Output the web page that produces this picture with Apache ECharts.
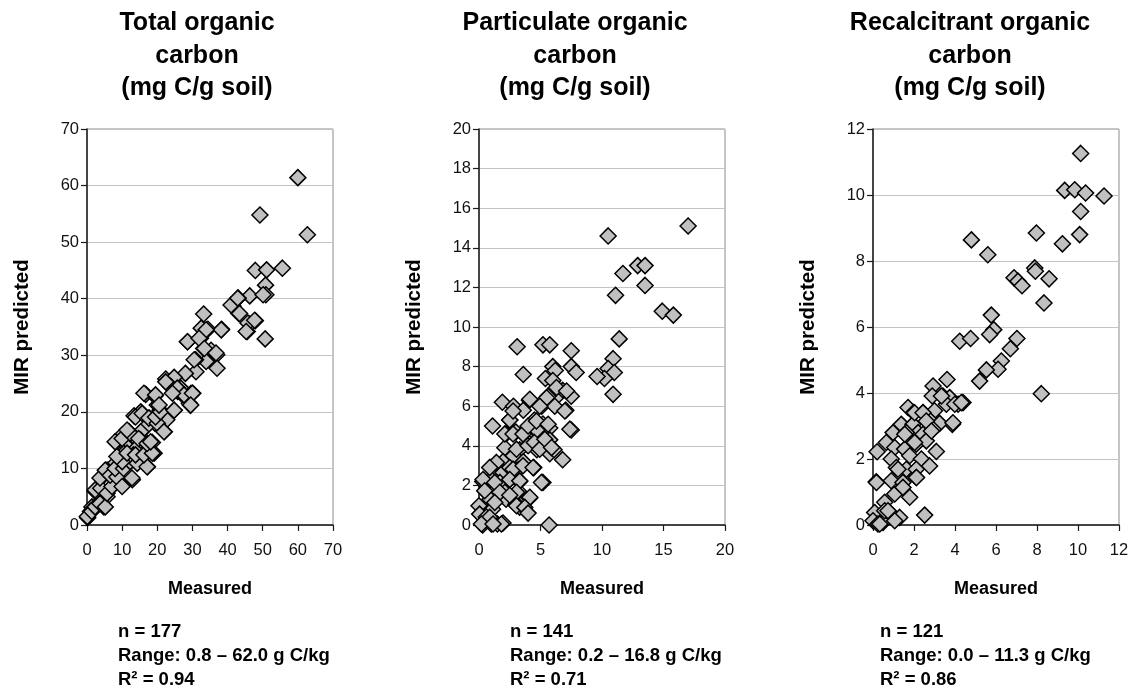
<!DOCTYPE html>
<html>
<head>
<meta charset="utf-8">
<script src="https://cdn.jsdelivr.net/npm/echarts@6/dist/echarts.min.js"></script>
<style>
  html, body { margin: 0; padding: 0; background: #fff; }
  #main { width: 1134px; height: 689px; }
</style>
</head>
<body>
<div id="main"></div>
<script>
// Total organic carbon: measured / MIR predicted
const tocMeasured = [60.0, 49.2, 62.7, 47.9, 51.1, 55.6, 50.8, 50.9, 46.3, 43.0, 41.5, 43.2, 45.6, 46.3, 47.9, 50.7,
  33.2, 34.4, 32.5, 38.3, 28.6, 32.3, 33.2, 35.3, 36.9, 33.9, 30.9, 37.0, 31.0, 28.0, 22.4, 24.8, 23.8, 25.8, 27.7, 30.1,
  29.4, 16.7, 19.3, 24.8, 22.7, 22.0, 20.8, 20.0, 13.4, 15.3, 17.7, 19.3, 16.9, 18.6, 19.1, 17.2, 15.3, 13.9, 12.0, 10.0,
  8.4, 11.5, 14.1, 15.3, 13.2, 10.5, 8.1, 10.5, 12.9, 10.0, 5.7, 7.6, 4.3, 6.7, 3.8, 2.4, 4.8, 1.4, 1.0, 0.2, 5.7,
  0.1, 1.35, 2.3, 3.7, 5.2, 2.3, 3.9, 5.7, 7.1, 3.7, 5.2, 6.6, 8.5, 10.0, 12.8, 8.0, 10.4, 12.3, 10.0, 14.3, 17.1, 8.5,
  11.4, 13.8, 16.2, 18.6, 8.0, 10.0, 12.3, 14.7, 17.1, 18.1, 11.4, 13.8, 15.7, 17.6, 20.0, 21.9, 19.5, 20.9, 24.8, 16.2,
  19.5, 20.5, 22.4, 26.7, 29.6, 29.1, 38.2, 33.9, 28.6, 31.9, 33.4, 36.7, 30.5, 25.7, 27.6, 30.0, 29.5, 24.3, 41.0,
  42.9, 43.4, 45.8, 47.7, 45.3, 50.1];
const tocPredicted = [61.4, 54.8, 51.3, 45.0, 45.1, 45.4, 42.4, 40.7, 40.5, 40.1, 38.7, 37.4, 34.2, 35.5, 36.1, 32.9,
  37.3, 34.6, 34.8, 34.6, 32.4, 33.0, 31.2, 30.9, 30.1, 28.9, 29.2, 27.7, 27.1, 26.8, 25.8, 26.1, 24.5, 23.6, 22.7, 23.3,
  21.2, 23.1, 22.8, 20.3, 18.6, 16.5, 20.3, 21.2, 19.3, 20.0, 18.9, 18.0, 17.4, 14.6, 12.7, 10.3, 16.5, 15.3, 16.5, 15.9,
  14.6, 13.8, 13.6, 15.0, 12.4, 12.7, 10.9, 10.3, 8.0, 7.1, 9.7, 8.8, 8.5, 6.5, 6.5, 5.9, 3.2, 3.2, 2.4, 1.3, 5.0,
  1.5, 2.4, 3.2, 3.8, 3.2, 6.2, 6.5, 5.6, 6.8, 8.3, 9.7, 8.8, 8.5, 6.8, 8.3, 10.0, 10.0, 11.2, 11.2, 10.9, 10.3, 12.1,
  12.7, 12.4, 12.4, 12.7, 14.7, 15.3, 16.2, 15.3, 14.4, 14.7, 16.8, 19.1, 19.7, 18.9, 18.0, 16.5, 19.1, 20.0, 20.3, 23.3,
  23.0, 21.2, 25.3, 24.2, 23.3, 21.5, 34.5, 34.5, 32.4, 33.0, 31.2, 30.4, 29.2, 24.2, 23.0, 23.3, 21.2, 23.3, 38.9,
  40.1, 37.4, 35.7, 36.2, 34.2, 40.7];

// Particulate organic carbon
const pocMeasured = [17.0, 10.5, 12.9, 13.5, 11.7, 13.5, 11.1, 14.9, 15.8, 11.4, 10.9, 10.5, 11.0, 10.2, 9.6, 10.9,
  3.1, 5.2, 5.75, 7.5, 3.6, 5.4, 6.0, 6.2, 6.0, 7.5, 7.9, 6.8, 7.5, 6.2, 5.6, 1.9, 2.8, 3.6, 4.1, 5.1, 7.06, 7.5, 1.1,
  2.5, 4.5, 5.2, 5.75, 2.2, 3.0, 3.6, 4.7, 4.1, 5.75, 5.3, 2.1, 3.3, 4.1, 4.7, 5.75, 6.1, 6.8, 1.95, 2.8, 3.6, 4.45,
  0.9, 1.4, 1.95, 2.5, 3.2, 0.3, 1.0, 1.7, 2.5, 3.3, 5.2, 0.6, 1.4, 2.1, 3.2, 0.9, 2.2, 3.0, 3.3, 4.1, 0.0, 0.05, 1.1,
  0.6, 0.3, 1.0, 1.5, 1.95, 5.7, 1.1,
  2.5, 2.77, 2.1, 2.77, 3.58, 3.05, 3.99, 4.5, 4.94, 1.42, 2.77, 3.58, 4.4, 0.33, 1.28, 2.5, 3.31, 5.08, 0.46, 1.69,
  3.05, 4.13, 1.28, 3.05, 3.72, 0.87, 0.2, 1.82, 5.5, 6.16, 6.98, 7.39, 4.13, 4.94, 3.99, 4.67, 5.62, 5.35, 5.9, 6.3,
  7.12, 0.87, 1.14, 2.5, 3.99];
const pocPredicted = [15.1, 14.6, 13.1, 13.1, 12.7, 12.1, 11.6, 10.8, 10.6, 9.4, 8.4, 7.9, 7.7, 7.4, 7.5, 6.6,
  9.0, 9.1, 9.1, 8.8, 7.6, 7.4, 8.0, 7.8, 7.3, 8.0, 7.7, 6.8, 6.5, 6.4, 6.5, 6.2, 6.0, 5.8, 6.3, 6.0, 5.8, 4.8, 5.0,
  5.3, 5.3, 5.1, 4.9, 4.6, 4.7, 4.6, 4.8, 4.3, 4.3, 4.1, 3.9, 3.8, 4.1, 3.8, 3.6, 3.8, 3.3, 3.2, 3.5, 3.2, 2.9,
  2.9, 2.65, 2.65, 2.9, 2.8, 2.2, 2.3, 2.15, 2.3, 2.2, 2.15, 1.65, 1.8, 1.65, 1.7, 1.3, 1.3, 1.05, 0.9, 1.35, 0.97,
  0.55, 0.8, 0.4, 0.0, 0.05, 0.05, 0.1, 0.0, 0.2,
  5.3, 5.76, 4.6, 4.6, 4.6, 3.83, 4.0, 4.17, 3.83, 3.16, 2.82, 2.99, 2.9, 2.3, 2.15, 2.3, 2.23, 2.15, 1.73, 1.65,
  1.65, 1.4, 1.14, 0.97, 0.89, 0.39, 0.05, 0.05, 6.43, 6.0, 5.76, 4.84, 6.35, 6.0, 5.0, 5.25, 5.09, 4.33, 3.91, 6.94,
  6.77, 2.9, 0.05, 1.5, 0.6];

// Recalcitrant organic carbon
const rocMeasured = [10.13, 9.35, 9.84, 10.37, 11.27, 10.13, 9.24, 10.08, 7.97, 4.8, 5.6, 7.89, 7.92, 8.59, 6.88, 7.07,
  7.27, 8.34, 5.77, 5.89, 5.69, 4.23, 4.76, 7.02, 6.7, 6.26, 6.1, 5.53, 5.2, 8.21, 3.61, 2.93, 2.89, 3.41, 3.74, 4.15,
  4.39, 3.87, 1.71, 1.98, 2.44, 3.0, 2.73, 3.25, 1.38, 1.95, 2.2, 0.98, 1.63, 2.44, 2.93, 0.65, 1.06, 1.54, 2.11, 2.6,
  3.09, 0.2, 0.89, 1.79, 2.36, 2.76, 1.14, 1.63, 2.11, 0.16, 0.89, 1.46, 2.11, 1.06, 1.46, 1.79, 0.57, 0.08, 0.81,
  1.3, 2.52, 0.0, 0.24, 0.49, 1.06, 0.57,
  2.03, 2.44, 2.6, 2.85, 1.55, 2.03, 1.22, 2.12, 0.17, 0.73, 0.33, 3.58, 3.99, 4.31, 3.34, 3.9];
const rocPredicted = [11.26, 10.14, 10.16, 10.06, 9.97, 9.5, 8.52, 8.8, 8.85, 8.64, 8.19, 7.79, 7.69, 7.46, 7.49, 7.39,
  7.25, 6.73, 6.36, 5.92, 5.77, 5.57, 5.65, 5.65, 5.34, 4.97, 4.72, 4.7, 4.36, 3.98, 4.41, 4.21, 3.91, 3.91, 3.86, 3.66,
  3.71, 3.05, 3.56, 3.41, 3.41, 3.46, 3.2, 3.08, 3.05, 3.05, 2.8, 2.8, 2.8, 2.75, 2.9, 2.5, 2.35, 2.3, 2.45, 2.55,
  2.23, 2.22, 2.0, 2.1, 2.0, 1.79, 1.74, 1.69, 1.69, 1.31, 1.34, 1.29, 1.44, 0.94, 1.14, 0.84, 0.69, 0.38, 0.38,
  0.23, 0.3, 0.13, 0.03, 0.08, 0.13, 0.43,
  3.4, 3.4, 3.15, 2.85, 2.75, 2.5, 1.69, 1.44, 1.29, 0.43, 0.03, 3.66, 3.66, 3.71, 3.91, 3.1];

// axis ranges / ticks
const axisMax = [70, 20, 12];
const xStep = [10, 5, 2];
const yStep = [10, 2, 2];

const panelTitles = ['Total organic\ncarbon\n(mg C/g soil)', 'Particulate organic\ncarbon\n(mg C/g soil)',
  'Recalcitrant organic\ncarbon\n(mg C/g soil)'];
const statLines = [
  ['n = 177', 'Range: 0.8 – 62.0 g C/kg', 'R² = 0.94'],
  ['n = 141', 'Range: 0.2 – 16.8 g C/kg', 'R² = 0.71'],
  ['n = 121', 'Range: 0.0 – 11.3 g C/kg', 'R² = 0.86']
];

const chart = echarts.init(document.getElementById('main'), null, { renderer: 'canvas' });

const gridLefts = [87, 479, 873];
const titleCenters = [197, 575, 970];
const statLefts = [118, 510, 880];
const FONT = '"Liberation Sans", Arial, sans-serif';

const pairs = [
  [tocMeasured, tocPredicted],
  [pocMeasured, pocPredicted],
  [rocMeasured, rocPredicted]
];

const grids = [], xAxes = [], yAxes = [], series = [], graphics = [];

for (let i = 0; i < 3; i++) {
  grids.push({
    left: gridLefts[i], top: 129, width: 246, height: 396,
    show: true, borderColor: '#8c8c8c', borderWidth: 1, backgroundColor: '#fff'
  });
  const common = {
    gridIndex: i, type: 'value', min: 0, max: axisMax[i],
    nameLocation: 'middle',
    nameTextStyle: { fontFamily: FONT, fontWeight: 'bold', fontSize: 18, color: '#000' },
    axisLine: { show: true, onZero: false, lineStyle: { color: '#1a1a1a', width: 1.5 } },
    axisTick: { show: true, inside: false, length: 6, lineStyle: { color: '#1a1a1a', width: 1.2 } },
    axisLabel: { fontFamily: FONT, fontSize: 16.5, color: '#111' }
  };
  xAxes.push(Object.assign({}, common, {
    interval: xStep[i],
    name: 'Measured', nameGap: 55,
    splitLine: { show: false },
    axisLabel: Object.assign({}, common.axisLabel, { margin: 17 })
  }));
  yAxes.push(Object.assign({}, common, {
    interval: yStep[i],
    name: 'MIR predicted', nameGap: 54,
    nameTextStyle: Object.assign({}, common.nameTextStyle, { fontSize: 20.5 }),
    splitLine: { show: true, lineStyle: { color: '#c4c4c4', width: 1.2 } },
    axisLabel: Object.assign({}, common.axisLabel, { margin: 8 })
  }));
  const [mx, my] = pairs[i];
  series.push({
    type: 'scatter', xAxisIndex: i, yAxisIndex: i,
    symbol: 'diamond', symbolSize: 16,
    itemStyle: { color: '#c0c0c0', borderColor: '#000', borderWidth: 1.5, opacity: 1 },
    data: mx.map((x, k) => [x, my[k]])
  });
  graphics.push({
    type: 'text', x: titleCenters[i], y: 7,
    style: {
      text: panelTitles[i], fontFamily: FONT, fontWeight: 'bold', fontSize: 25,
      lineHeight: 32.5, fill: '#000', textAlign: 'center'
    }
  });
  graphics.push({
    type: 'text', x: statLefts[i], y: 620,
    style: {
      text: statLines[i].join('\n'), fontFamily: FONT, fontWeight: 'bold', fontSize: 18.5,
      lineHeight: 24, fill: '#000', textAlign: 'left'
    }
  });
}

chart.setOption({
  backgroundColor: '#fff',
  animation: false,
  grid: grids,
  xAxis: xAxes,
  yAxis: yAxes,
  series: series,
  graphic: graphics
});
</script>
</body>
</html>
